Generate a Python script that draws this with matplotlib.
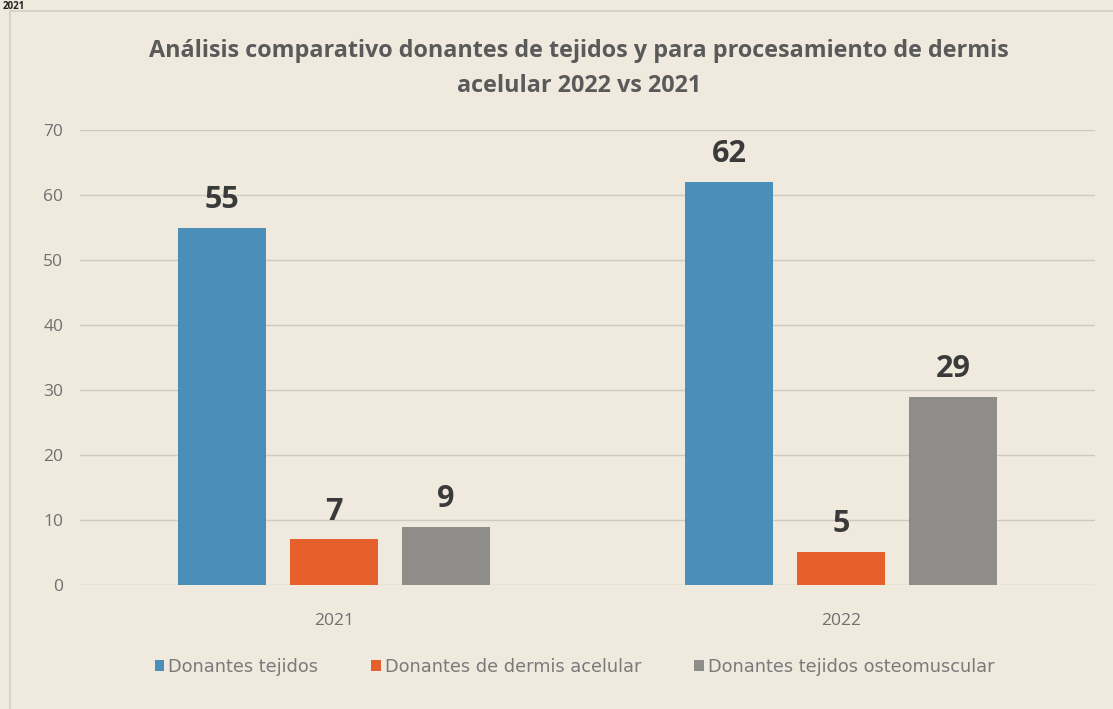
import matplotlib.pyplot as plt
import numpy as np

years = ["2021", "2022"]
series_names = ["Donantes tejidos", "Donantes de dermis acelular",
                "Donantes tejidos osteomuscular"]
tejidos = [55, 62]
dermis = [7, 5]
osteomuscular = [9, 29]

colors = ["#4b8fb9", "#e5602b", "#8e8d89"]
bg = "#efe9de"

plt.rcParams['font.family'] = ['Open Sans', 'DejaVu Sans']

fig = plt.figure(figsize=(11.13, 7.09), dpi=100, facecolor=bg)
ax = fig.add_axes([0.0719, 0.1749, 0.9119, 0.6417])
ax.set_facecolor(bg)

x = np.arange(len(years))
w = 0.1736
step = 0.221
for i, (vals, name) in enumerate(zip([tejidos, dermis, osteomuscular], series_names)):
    pos = x + (i - 1) * step
    bars = ax.bar(pos, vals, w, color=colors[i], label=name, zorder=3)
    for b, v in zip(bars, vals):
        ax.text(b.get_x() + b.get_width() / 2, v + 2.0, str(v), ha='center',
                va='bottom', fontsize=22, fontweight='bold', color='#3a3a3a')

ax.set_xlim(-0.5, 1.5)
ax.set_ylim(0, 70)
ax.set_yticks(range(0, 71, 10))
ax.set_xticks(x)
ax.set_xticklabels(years)
ax.grid(axis='y', color='#cfc9be', linewidth=1, zorder=0)
for s in ax.spines.values():
    s.set_visible(False)
ax.tick_params(axis='both', length=0, colors='#707070', labelsize=12.5)
ax.tick_params(axis='y', pad=12)
ax.tick_params(axis='x', pad=20)

fig.text(0.52, 0.903, "Análisis comparativo donantes de tejidos y para procesamiento de dermis\nacelular 2022 vs 2021",
         ha='center', va='center', fontsize=16.8, fontweight='bold', color='#5a5a5a',
         linespacing=1.6)

ax.legend(loc='upper center', bbox_to_anchor=(0.487, -0.125), ncol=3, frameon=False,
          prop={'family': 'DejaVu Sans', 'size': 12.8}, handlelength=0.55, handleheight=0.55,
          columnspacing=3.0, handletextpad=0.2, labelcolor='#7a7a7a')

# fragment of the page above and the frame line
fig.text(0.002, 0.999, "2021", ha='left', va='top', fontsize=7, fontweight='bold', color='#222222')
fig.add_artist(plt.Line2D([0.009, 0.009], [0, 0.985], color='#d8d2c8', linewidth=1.5))
fig.add_artist(plt.Line2D([0.009, 1.0], [0.985, 0.985], color='#d8d2c8', linewidth=1.5))

fig.savefig("out.png", dpi=100, facecolor=bg)
